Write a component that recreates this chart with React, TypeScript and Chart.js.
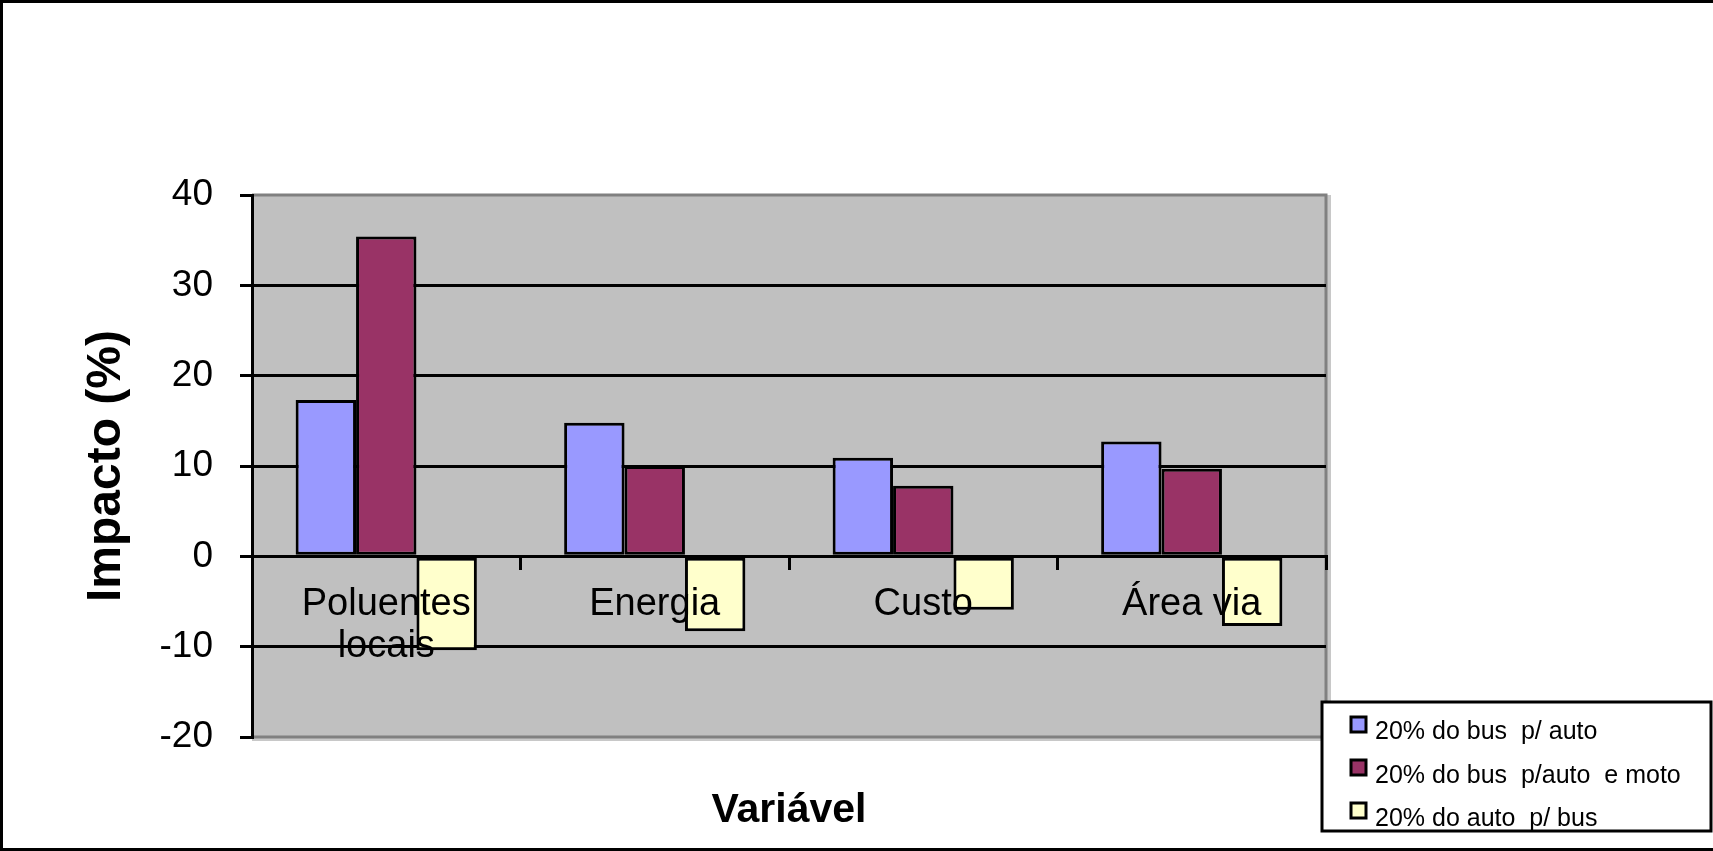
import React, { useEffect, useRef } from "react";
import { Chart, registerables } from "chart.js";

Chart.register(...registerables);

const categories: (string | string[])[] = [["Poluentes", "locais"], "Energia", "Custo", "Área via"];
const seriesLabels = ["20% do bus  p/ auto", "20% do bus  p/auto  e moto", "20% do auto  p/ bus"];
const busToAuto = [17.3, 14.8, 10.9, 12.7];
const busToAutoMoto = [35.4, 10.0, 7.8, 9.7];
const autoToBus = [-10.4, -8.3, -5.9, -7.7];
const seriesColors = ["#9999FF", "#993366", "#FFFFCC"];
const yTicks = [-20, -10, 0, 10, 20, 30, 40];
const yTitle = "Impacto (%)";
const xTitle = "Variável";

const FONT = "'Liberation Sans', Arial, sans-serif";

const background = {
  id: "background",
  beforeDraw(chart: any) {
    const { ctx, chartArea: a } = chart;
    ctx.save();
    ctx.fillStyle = "#ffffff";
    ctx.fillRect(0, 0, chart.width, chart.height);
    ctx.fillStyle = "#C8C8C8";
    ctx.fillRect(a.right, a.top, 5, a.bottom - a.top + 5);
    ctx.fillRect(a.left, a.bottom, a.right - a.left + 5, 4);
    ctx.fillStyle = "#C0C0C0";
    ctx.fillRect(a.left, a.top, a.right - a.left, a.bottom - a.top);
    ctx.strokeStyle = "#808080";
    ctx.lineWidth = 3;
    ctx.beginPath();
    ctx.moveTo(a.left, a.top);
    ctx.lineTo(a.right, a.top);
    ctx.lineTo(a.right, a.bottom);
    ctx.lineTo(a.left, a.bottom);
    ctx.stroke();
    ctx.restore();
  },
};

const boxLegend = {
  id: "boxLegend",
  afterDraw(chart: any) {
    const ctx = chart.ctx;
    const x = 1322, y = 702, w = 389, h = 129;
    ctx.save();
    ctx.fillStyle = "#ffffff";
    ctx.fillRect(x, y, w, h);
    ctx.strokeStyle = "#000";
    ctx.lineWidth = 3;
    ctx.strokeRect(x, y, w, h);
    ctx.font = `25px ${FONT}`;
    ctx.textBaseline = "alphabetic";
    ctx.textAlign = "left";
    chart.data.datasets.forEach((ds: any, i: number) => {
      const sy = 717 + i * 43;
      ctx.fillStyle = ds.backgroundColor;
      ctx.fillRect(1351, sy, 15, 15);
      ctx.strokeStyle = "#000";
      ctx.lineWidth = 3;
      ctx.strokeRect(1351, sy, 15, 15);
      ctx.fillStyle = "#000";
      ctx.fillText(ds.label, 1375, 739 + i * 43.5);
    });
    // outer frame
    ctx.fillStyle = "#000";
    ctx.fillRect(0, 0, chart.width, 3);
    ctx.fillRect(0, 0, 3, chart.height);
    ctx.fillRect(0, chart.height - 3, chart.width, 3);
    ctx.restore();
  },
};

export default function App() {
  const ref = useRef<HTMLCanvasElement | null>(null);

  useEffect(() => {
    document.body.style.margin = "0";
    const canvas = ref.current;
    if (!canvas) return;
    const seriesData = [busToAuto, busToAutoMoto, autoToBus];
    const chart = new Chart(canvas, {
      type: "bar",
      data: {
        labels: categories,
        datasets: seriesData.map((d, i) => ({
          label: seriesLabels[i],
          data: d,
          backgroundColor: seriesColors[i],
          borderColor: "#000",
          borderWidth: 3,
          borderSkipped: false,
          categoryPercentage: 0.675,
          barPercentage: 1.0,
        })),
      },
      options: {
        responsive: false,
        animation: false,
        devicePixelRatio: 1,
        layout: { padding: { top: 195, right: 387, bottom: 15.8, left: 0 } },
        plugins: {
          legend: { display: false },
          tooltip: { enabled: false },
          title: {
            display: true,
            text: xTitle,
            position: "bottom",
            fullSize: false,
            color: "#000",
            font: { family: FONT, size: 41, weight: "bold", lineHeight: 1.2 },
            padding: { top: 49, bottom: 0 },
          },
        },
        scales: {
          x: {
            position: { y: 0 },
            offset: true,
            grid: {
              display: true,
              drawOnChartArea: false,
              drawTicks: true,
              tickLength: 12,
              color: "#000",
              lineWidth: 3,
              offset: true,
            },
            border: { display: true, color: "#000", width: 3 },
            ticks: {
              font: { family: FONT, size: 38, lineHeight: 1.105 },
              color: "#000",
              padding: 15.5,
              z: 1,
              maxRotation: 0,
              minRotation: 0,
              autoSkip: false,
            },
            afterFit: (s: any) => {
              s.height = 0;
            },
          } as any,
          y: {
            min: -20,
            max: 40,
            afterBuildTicks: (s: any) => {
              s.ticks = yTicks.map((v) => ({ value: v }));
            },
            ticks: {
              font: { family: FONT, size: 37 },
              color: "#000",
              padding: 27,
            },
            grid: {
              color: (c: any) =>
                c.tick && (c.tick.value === 40 || c.tick.value === -20) ? "rgba(0,0,0,0)" : "#000",
              tickColor: "#000",
              lineWidth: 3,
              tickWidth: 3,
              tickLength: 12,
            },
            border: { color: "#000", width: 3 },
            title: {
              display: true,
              text: yTitle,
              color: "#000",
              font: { family: FONT, size: 48, weight: "bold", lineHeight: 1.2 },
              padding: { top: 78, bottom: 0 },
            },
            afterFit: (s: any) => {
              s.width = 252;
            },
          } as any,
        },
      },
      plugins: [background, boxLegend],
    });
    return () => chart.destroy();
  }, []);

  return <canvas ref={ref} width={1713} height={851} style={{ display: "block" }} />;
}
